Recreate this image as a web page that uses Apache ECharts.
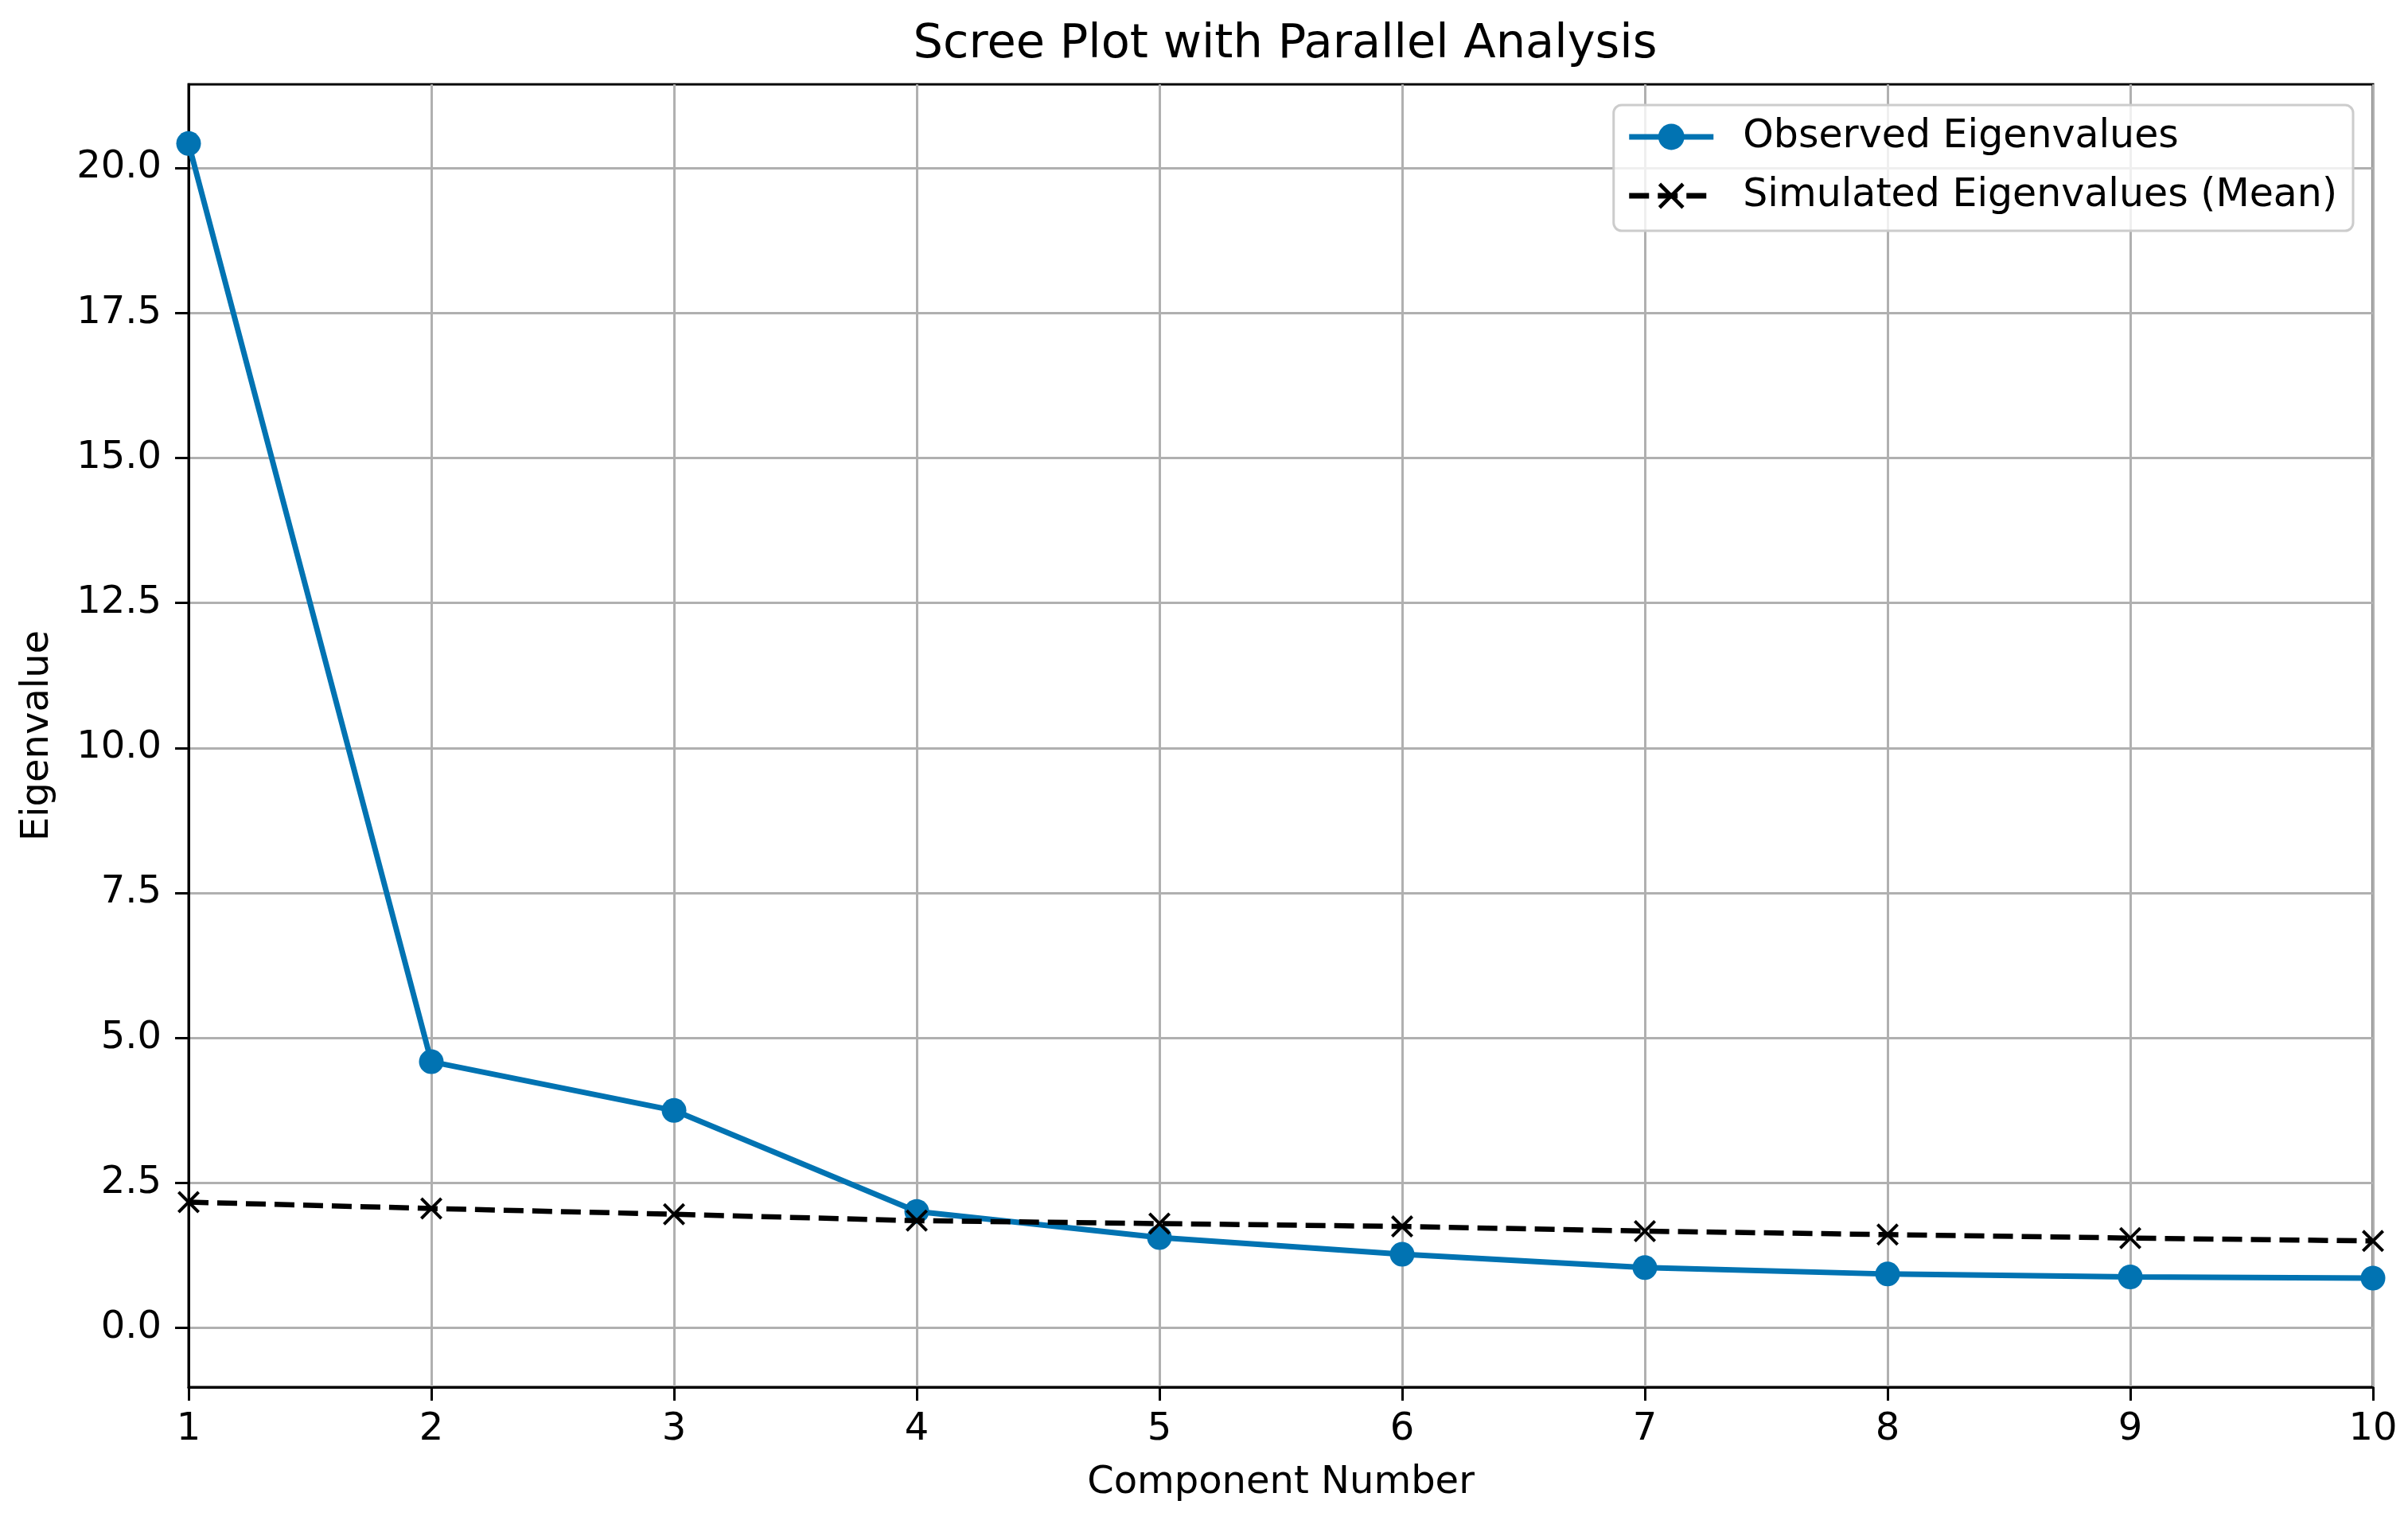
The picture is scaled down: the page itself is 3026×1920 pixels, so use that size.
<!DOCTYPE html>
<html>
<head>
<meta charset="utf-8">
<script src="https://cdn.jsdelivr.net/npm/echarts@6/dist/echarts.min.js"></script>
<style>
html,body{margin:0;padding:0;background:#fff;}
#chart{width:3026px;height:1920px;}
</style>
</head>
<body>
<div id="chart"></div>
<script>
const components = [1, 2, 3, 4, 5, 6, 7, 8, 9, 10];
const observed = [20.42, 4.59, 3.75, 2.01, 1.56, 1.27, 1.04, 0.93, 0.88, 0.86];
const simulated = [2.17, 2.06, 1.96, 1.85, 1.80, 1.75, 1.67, 1.61, 1.55, 1.50];
const yTicks = [0, 2.5, 5, 7.5, 10, 12.5, 15, 17.5, 20];

const FONT = 'DejaVu Sans';
const X_MARK = 'path://M0,1 L1,0 L5,4 L9,0 L10,1 L6,5 L10,9 L9,10 L5,6 L1,10 L0,9 L4,5 Z';

const chart = echarts.init(document.getElementById('chart'));
chart.setOption({
  backgroundColor: '#ffffff',
  animation: false,
  textStyle: { fontFamily: FONT },
  title: {
    text: 'Scree Plot with Parallel Analysis',
    left: 1610,
    textAlign: 'center',
    top: 22,
    textStyle: { fontFamily: FONT, fontSize: 59, fontWeight: 'normal', color: '#000' }
  },
  grid: {
    left: 237, right: 44, top: 106, bottom: 177,
    show: true, borderColor: '#000', borderWidth: 3, backgroundColor: 'transparent'
  },
  legend: {
    orient: 'vertical',
    right: 69,
    top: 132,
    itemWidth: 106,
    itemHeight: 41,
    itemGap: 18,
    padding: [12, 20, 16, 16],
    backgroundColor: 'rgba(255,255,255,0.8)',
    borderColor: '#cccccc',
    borderWidth: 3,
    borderRadius: 10,
    lineStyle: { width: 7 },
    textStyle: { fontFamily: FONT, fontSize: 49, color: '#000', lineHeight: 56, padding: [0, 0, 0, 32] },
    data: ['Observed Eigenvalues', 'Simulated Eigenvalues (Mean)']
  },
  xAxis: {
    type: 'value',
    min: 1, max: 10, interval: 1,
    name: 'Component Number',
    nameLocation: 'middle',
    nameGap: 97,
    nameTextStyle: { fontFamily: FONT, fontSize: 48, color: '#000' },
    axisLine: { show: true, onZero: false, lineStyle: { color: '#000', width: 3 } },
    axisTick: { show: true, length: 17, lineStyle: { color: '#000', width: 3 } },
    axisLabel: { fontFamily: FONT, fontSize: 48, color: '#000', margin: 30 },
    splitLine: { show: true, lineStyle: { color: '#b0b0b0', width: 3 } }
  },
  yAxis: {
    type: 'value',
    min: -1.02, max: 21.44,
    name: 'Eigenvalue',
    nameLocation: 'middle',
    nameGap: 165,
    nameRotate: 90,
    nameTextStyle: { fontFamily: FONT, fontSize: 48, color: '#000' },
    axisLine: { show: true, lineStyle: { color: '#000', width: 3 } },
    axisTick: { show: true, length: 17, customValues: yTicks, lineStyle: { color: '#000', width: 3 } },
    axisLabel: {
      fontFamily: FONT, fontSize: 48, color: '#000', margin: 34,
      customValues: yTicks,
      formatter: v => Number(v).toFixed(1)
    },
    splitLine: { show: true, lineStyle: { color: '#b0b0b0', width: 3 } }
  },
  series: [
    {
      name: 'Observed Eigenvalues',
      type: 'line',
      data: components.map((c, i) => [c, observed[i]]),
      symbol: 'circle',
      symbolSize: 31,
      color: '#0173b2',
      lineStyle: { color: '#0173b2', width: 7 },
      itemStyle: { color: '#0173b2' },
      z: 3
    },
    {
      name: 'Simulated Eigenvalues (Mean)',
      type: 'line',
      data: components.map((c, i) => [c, simulated[i]]),
      symbol: X_MARK,
      symbolSize: 28,
      color: '#000',
      lineStyle: { color: '#000', width: 6.5, type: [25, 11] },
      itemStyle: { color: '#000' },
      z: 4
    }
  ]
});
</script>
</body>
</html>
